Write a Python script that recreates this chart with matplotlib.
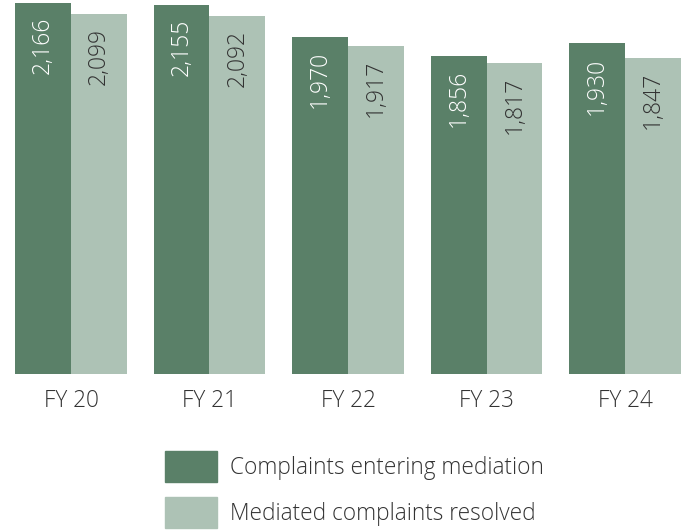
import matplotlib
matplotlib.use("Agg")
import matplotlib.pyplot as plt
from matplotlib.patches import Rectangle
import numpy as np

plt.rcParams['font.family'] = ['Open Sans', 'DejaVu Sans']

years = ["FY 20", "FY 21", "FY 22", "FY 23", "FY 24"]
entering = [2166, 2155, 1970, 1856, 1930]
resolved = [2099, 2092, 1917, 1817, 1847]
series_names = ["Complaints entering mediation", "Mediated complaints resolved"]

dark = "#5a8068"
light = "#adc2b5"
text_col = "#333333"

W, H = 691, 531
fig = plt.figure(figsize=(W / 100, H / 100), dpi=100)

base_px = 374
px_per_unit = 371 / 2166
ax = fig.add_axes([0, (H - base_px) / H, 1, base_px / H])

x = np.arange(len(years))
bw = 0.404
ax.bar(x - bw / 2, entering, bw, color=dark)
ax.bar(x + bw / 2, resolved, bw, color=light)

ax.set_xlim(-71 / 138.5, (W - 71) / 138.5)
ax.set_ylim(0, base_px / px_per_unit)

off = 14 / px_per_unit
for xi, v in zip(x, entering):
    ax.text(xi - bw / 2, v - off, f"{v:,}", rotation=90, ha="center", va="top",
            color="white", fontsize=16.5, fontweight="light")
for xi, v in zip(x, resolved):
    ax.text(xi + bw / 2, v - off, f"{v:,}", rotation=90, ha="center", va="top",
            color=text_col, fontsize=16.5, fontweight="light")

ax.set_xticks(x)
ax.set_xticklabels(years, fontsize=16.3, color=text_col, fontweight="light")
ax.tick_params(axis="x", length=0, pad=10.5)
ax.set_yticks([])
for s in ax.spines.values():
    s.set_visible(False)

# legend
for i, (name, col) in enumerate(zip(series_names, [dark, light])):
    top = 451 + i * 46
    fig.patches.append(Rectangle((165 / W, (H - top - 31) / H), 52 / W, 31 / H,
                                 transform=fig.transFigure, color=col))
    fig.text(230 / W, (H - top - 17.5) / H, name, ha="left", va="center",
             fontsize=16.3, color=text_col, fontweight="light")

fig.savefig("out.png", dpi=100)
